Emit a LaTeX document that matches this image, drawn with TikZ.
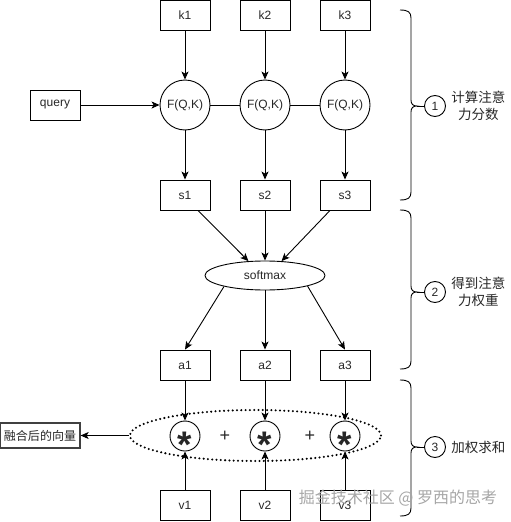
\documentclass[tikz,border=0pt]{standalone}
\usepackage{fontspec}
\setmainfont{Liberation Sans}
\newfontfamily\cjk{Noto Sans CJK SC}
\usetikzlibrary{arrows.meta,calc,shapes.geometric}
\begin{document}
\begin{tikzpicture}[x=1pt,y=-1pt,
  line width=0.9pt,
  every node/.style={text=black!85},
  box/.style={draw, minimum width=50pt, minimum height=30pt, inner sep=0pt, font=\fontsize{12}{14}\selectfont},
  fcirc/.style={draw, circle, minimum size=50pt, inner sep=0pt, font=\fontsize{12}{14}\selectfont},
  mcirc/.style={draw, circle, minimum size=30pt, inner sep=0pt},
  ncirc/.style={draw, circle, minimum size=21pt, inner sep=0pt, font=\fontsize{12}{14}\selectfont},
  arr/.style={-{Stealth[length=8pt,width=7pt,inset=2pt]}},
  startxt/.style={font=\fontsize{37}{37}\selectfont\bfseries, anchor=base, inner sep=0pt},
  plustxt/.style={font=\fontsize{18}{18}\selectfont, inner sep=0pt},
  bracelbl/.style={font=\cjk\fontsize{13.5}{17}\selectfont, align=center, inner sep=0pt},
]
\useasboundingbox (0,0) rectangle (511,522);

% keys
\node[box] (k1) at (185,15) {k1};
\node[box] (k2) at (265,15) {k2};
\node[box] (k3) at (345,15) {k3};
% score functions
\node[fcirc] (f1) at (185,105) {F(Q,K)};
\node[fcirc] (f2) at (265,105) {F(Q,K)};
\node[fcirc] (f3) at (345,105) {F(Q,K)};
\node[box] (q) at (55,105) {query};
% scores
\node[box] (s1) at (185,195) {s1};
\node[box] (s2) at (265,195) {s2};
\node[box] (s3) at (345,195) {s3};
% softmax
\node[draw, ellipse, minimum width=120pt, minimum height=29pt, inner sep=0pt, font=\fontsize{12}{14}\selectfont] (sm) at (265,275.5) {softmax};
% weights
\node[box] (a1) at (185,365) {a1};
\node[box] (a2) at (265,365) {a2};
\node[box] (a3) at (345,365) {a3};
% weighted sum
\node[draw, ellipse, dash pattern=on 0pt off 4.3pt, line cap=round, line width=2.3pt, minimum width=251pt, minimum height=51pt, inner sep=0pt] (de) at (255.5,435.5) {};
\node[mcirc] (m1) at (185,436) {};
\node[mcirc] (m2) at (265,436) {};
\node[mcirc] (m3) at (345,436) {};
\node[startxt] at ($(m1)+(0,21)$) {*};
\node[startxt] at ($(m2)+(0,21)$) {*};
\node[startxt] at ($(m3)+(0,21)$) {*};
\node[plustxt] (p1) at (225,436) {+};
\node[plustxt] (p2) at (310,436) {+};
\node[box] (v1) at (185,505) {v1};
\node[box] (v2) at (265,505) {v2};
\node[box] (v3) at (345,505) {v3};
\node[draw, line width=1.3pt, draw=black!75, minimum width=80pt, minimum height=25pt, inner sep=0pt, font=\cjk\fontsize{12}{14}\selectfont] (fuse) at (40,435.5) {融合后的向量};

% connectors
\foreach \i in {1,2,3} {
  \draw[arr] (k\i) -- (f\i);
  \draw[arr] (f\i) -- (s\i);
  \draw[arr] (a\i) -- (m\i);
  \draw[arr] (v\i) -- (m\i);
}
\draw[arr] (q) -- (f1);
\draw (f1) -- (f2);
\draw (f2) -- (f3);
\draw[arr] ([xshift=13pt]s1.south) -- (sm.139);
\draw[arr] (s2) -- (sm);
\draw[arr] ([xshift=-15pt]s3.south) -- (sm.41);
\draw[arr] (sm.195) -- (a1.north);
\draw[arr] (sm) -- (a2);
\draw[arr] (sm.346) -- (a3.north);
\draw[arr] (de.west) -- (fuse.east);

% braces
\foreach \t/\m/\b in {10/106/200, 210/292/369, 380/447/516} {
  \draw (400,\t) .. controls (408,\t) and (411,\t+2) .. (411,\t+8) -- (411,\m-6)
        .. controls (411,\m-2) and (413,\m) .. (417,\m)
        .. controls (413,\m) and (411,\m+2) .. (411,\m+6) -- (411,\b-8)
        .. controls (411,\b-2) and (408,\b) .. (400,\b);
  \draw (417,\m) -- (424,\m);
}
\node[ncirc] (c1) at (435,106) {1};
\node[ncirc] (c2) at (435,292) {2};
\node[ncirc] (c3) at (435,447) {3};
\node[bracelbl, anchor=west] (l1) at (451,106) {计算注意\\力分数};
\node[bracelbl, anchor=west] (l2) at (451,292) {得到注意\\力权重};
\node[bracelbl, anchor=west] (l3) at (451,447) {加权求和};

% watermark
\node[font=\cjk\fontsize{16}{18}\selectfont, text=black!35, inner sep=0pt] (wm) at (398,498) {掘金技术社区 @ 罗西的思考};
\end{tikzpicture}
\end{document}
